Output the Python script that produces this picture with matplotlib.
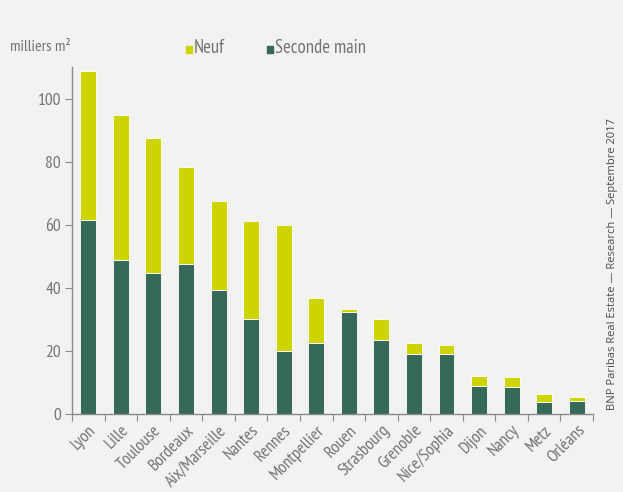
import matplotlib
matplotlib.use("Agg")
import matplotlib.pyplot as plt
import numpy as np
from matplotlib.patches import Rectangle

# Demand by city, thousands of m2
villes = ["Lyon", "Lille", "Toulouse", "Bordeaux", "Aix/Marseille", "Nantes",
          "Rennes", "Montpellier", "Rouen", "Strasbourg", "Grenoble",
          "Nice/Sophia", "Dijon", "Nancy", "Metz", "Orléans"]
seconde_main = [61.5, 49.0, 44.7, 47.6, 39.5, 30.3, 20.1, 22.6, 32.5, 23.6,
                19.2, 19.2, 9.0, 8.7, 3.9, 4.2]
neuf = [47.4, 46.0, 42.9, 30.8, 28.1, 31.1, 39.9, 14.1, 0.8, 6.6,
        3.4, 2.6, 3.2, 3.1, 2.3, 1.3]
yticks = [0, 20, 40, 60, 80, 100]

BG = "#f2f2f0"
C_NEUF = "#cdd400"
C_SECONDE = "#376958"
GREY = "#737373"
FONT = ["PT Sans Narrow", "Roboto Condensed", "DejaVu Sans"]

plt.rcParams["font.family"] = FONT

fig = plt.figure(figsize=(6.23, 4.92), dpi=100, facecolor=BG)
ax = fig.add_axes((0.1156, 0.1585, 0.8363, 0.7053), facecolor=BG)

x = np.arange(len(villes))
ax.bar(x, seconde_main, width=0.49, color=C_SECONDE, edgecolor="white",
       linewidth=0.6)
ax.bar(x, neuf, width=0.49, bottom=seconde_main, color=C_NEUF,
       edgecolor="white", linewidth=0.6)

ax.set_xlim(-0.5, len(villes) - 0.5)
ax.set_ylim(0, 110.2)
ax.set_yticks(yticks)
ax.set_yticklabels([str(v) for v in yticks], fontsize=12.5, color=GREY)

# category ticks sit between the bars
ax.set_xticks(np.arange(len(villes) + 1) - 0.5)
ax.set_xticklabels([])
ax.set_xticks(x, minor=True)
ax.set_xticklabels(villes, minor=True, rotation=45, ha="right",
                   rotation_mode="anchor", fontsize=12.5, color=GREY)
ax.tick_params(axis="x", which="minor", length=0, pad=6)
ax.tick_params(axis="x", which="major", length=5, color="#8a8a8a")
ax.tick_params(axis="y", length=5, color="#8a8a8a", pad=3)

for side in ("top", "right"):
    ax.spines[side].set_visible(False)
for side in ("left", "bottom"):
    ax.spines[side].set_color("#8a8a8a")
    ax.spines[side].set_linewidth(1.0)

fig.text(10 / 623, 1 - 47 / 492, "milliers m²", fontsize=11.5, color=GREY,
         va="center", ha="left")

# legend squares with labels
for px, label, col in [(186, "Neuf", C_NEUF), (267, "Seconde main", C_SECONDE)]:
    fig.patches.append(Rectangle((px / 623, 1 - 53 / 492), 6 / 623, 7 / 492,
                                 transform=fig.transFigure, color=col))
    fig.text((px + 8) / 623, 1 - 48 / 492, label, fontsize=13.5, color=GREY,
             va="center", ha="left")

fig.text(612 / 623, 1 - 264 / 492,
         "BNP Paribas Real Estate — Research — Septembre 2017",
         rotation=90, fontsize=8, color="#4a4a4a", va="center", ha="center",
         family=["Open Sans", "DejaVu Sans"])

fig.savefig("out.png", dpi=100, facecolor=BG)
